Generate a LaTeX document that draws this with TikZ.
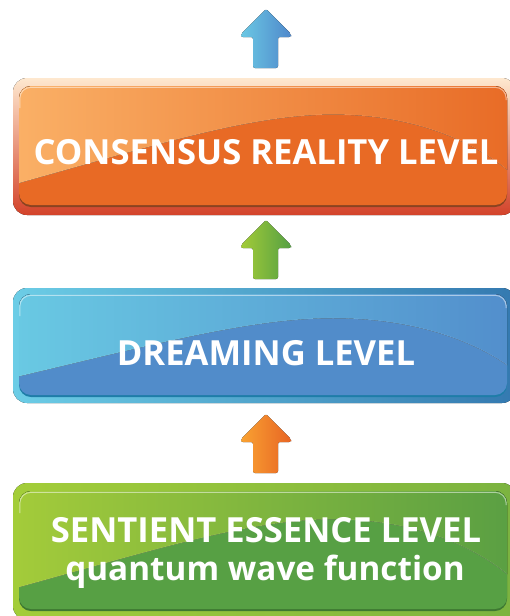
\documentclass[tikz,border=0pt]{standalone}
\usepackage{fontspec}
\setmainfont{Open Sans}
\definecolor{oTop}{HTML}{FEE8CF}
\definecolor{oMid}{HTML}{F4922A}
\definecolor{oBot}{HTML}{D3432A}
\definecolor{oLow}{HTML}{E86A25}
\definecolor{oUpL}{HTML}{FAB066}
\definecolor{oUpM}{HTML}{F7972B}
\definecolor{oUpR}{HTML}{E86B26}
\definecolor{oDark}{HTML}{8A4320}
\definecolor{bRimL}{HTML}{6CCDE6}
\definecolor{bRimM}{HTML}{62B4DC}
\definecolor{bRimR}{HTML}{3479B0}
\definecolor{bLow}{HTML}{518CCA}
\definecolor{bUpL}{HTML}{69C9E3}
\definecolor{bUpM}{HTML}{5DABD8}
\definecolor{bUpR}{HTML}{528ECC}
\definecolor{bDark}{HTML}{1E7DA8}
\definecolor{gRimL}{HTML}{A3CD39}
\definecolor{gRimM}{HTML}{98C63B}
\definecolor{gRimR}{HTML}{7BB340}
\definecolor{gLow}{HTML}{57A044}
\definecolor{gUpL}{HTML}{A3CB3A}
\definecolor{gUpM}{HTML}{7FB240}
\definecolor{gUpR}{HTML}{5A9F43}
\definecolor{gDark}{HTML}{3E7832}
\definecolor{aBlueL}{HTML}{6BC8E4}
\definecolor{aBlueR}{HTML}{4F88CB}
\definecolor{aGreenL}{HTML}{A3CB38}
\definecolor{aGreenR}{HTML}{55A043}
\definecolor{aOrL}{HTML}{F9A232}
\definecolor{aOrR}{HTML}{E86524}
\tikzset{
  lvltext/.style={text=white, font=\bfseries\fontsize{34.6}{40}\selectfont, inner sep=0pt, anchor=base},
  lowtext/.style={lvltext, font=\bfseries\fontsize{33.3}{40}\selectfont},
  facecorner/.style={rounded corners=12pt},
  rimcorner/.style={rounded corners=14pt},
  arrowshape/.style={rounded corners=2pt},
  hilite/.style={draw=white, draw opacity=.5, line width=1pt},
  oRim/.style={top color=oTop, middle color=oMid, bottom color=oBot},
  bRim/.style={left color=bRimL, middle color=bRimM, right color=bRimR},
  gRim/.style={left color=gRimL, middle color=gRimM, right color=gRimR}
}
% #1 outer top, #2 face top, #3 face bottom, #4 outer bottom, #5 prefix
\newcommand\levelbox[5]{%
  \pgfmathsetmacro\fh{#3-#2}%
  \fill[rimcorner, #5Rim] (13,#1) rectangle (516,#4);
  \fill[facecorner, #5Dark] (19,#2+2) rectangle (507,#3+2);
  \fill[facecorner, #5Low] (19,#2) rectangle (507,#3);
  \begin{scope}
    \clip[facecorner] (19,#2) rectangle (507,#3);
    \fill[left color=#5UpL, middle color=#5UpM, right color=#5UpR]
      (17,#2-2) -- (17,#2+0.82*\fh) .. controls (150,#2+0.51*\fh) and (250,#2+0.24*\fh) .. (333,#2+0.24*\fh)
      .. controls (420,#2+0.24*\fh) and (480,#2+0.50*\fh) .. (512,#2+0.74*\fh) -- (512,#2-2) -- cycle;
    \draw[white, opacity=.18, line width=.6pt]
      (17,#2+0.82*\fh) .. controls (150,#2+0.51*\fh) and (250,#2+0.24*\fh) .. (333,#2+0.24*\fh)
      .. controls (420,#2+0.24*\fh) and (480,#2+0.50*\fh) .. (512,#2+0.74*\fh);
  \end{scope}
  \draw[hilite, rounded corners=11pt] (19.8,#2+22) -- (19.8,#2+1.3) -- (506.2,#2+1.3) -- (506.2,#2+14);
}
\newcommand\blockarrow[3]{%
  \fill[arrowshape, left color=#2, right color=#3]
    (266,#1) -- (291,#1+25) -- (291,#1+28) -- (278,#1+28) -- (278,#1+59)
    -- (253,#1+59) -- (253,#1+28) -- (241,#1+28) -- (241,#1+25) -- cycle;
}
\begin{document}
\begin{tikzpicture}[x=1pt,y=-1pt]
\useasboundingbox (0,0) rectangle (510,616);
% top arrow
\blockarrow{9}{aBlueL}{aBlueR}
% consensus
\levelbox{78}{86}{205}{215}{o}
\node[lvltext] (cons) at (266,164) {CONSENSUS REALITY LEVEL};
% green arrow
\blockarrow{220}{aGreenL}{aGreenR}
% dreaming
\levelbox{288}{294}{395}{403}{b}
\node[lvltext] (dream) at (266,365) {DREAMING LEVEL};
% orange arrow
\blockarrow{414}{aOrL}{aOrR}
% sentient
\levelbox{483}{491}{609}{620}{g}
\node[lvltext] (sent) at (266,542) {SENTIENT ESSENCE LEVEL};
\node[lowtext] (quant) at (265,580) {quantum wave function};
\end{tikzpicture}
\end{document}
